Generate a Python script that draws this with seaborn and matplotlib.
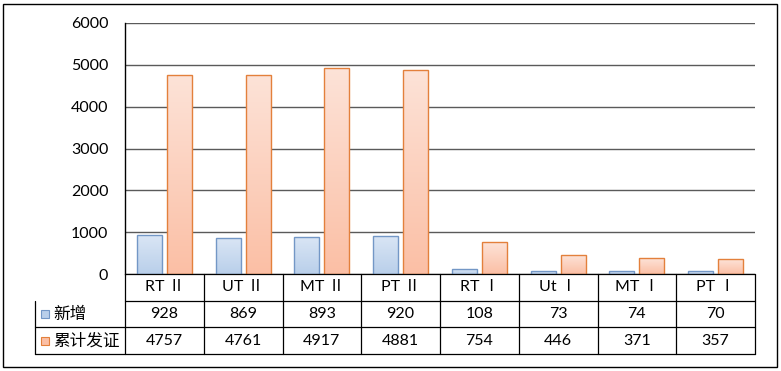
import numpy as np
import pandas as pd
import matplotlib
matplotlib.use("Agg")
import matplotlib.pyplot as plt
import seaborn as sns
from matplotlib.colors import LinearSegmentedColormap
from matplotlib.patches import Rectangle

categories = ["RT Ⅱ", "UT Ⅱ", "MT Ⅱ", "PT Ⅱ", "RT Ⅰ", "Ut Ⅰ", "MT Ⅰ", "PT Ⅰ"]
series_names = ["新增", "累计发证"]
new_counts = [928, 869, 893, 920, 108, 73, 74, 70]
total_counts = [4757, 4761, 4917, 4881, 754, 446, 371, 357]
yticks = [0, 1000, 2000, 3000, 4000, 5000, 6000]

# (edge, top of gradient, bottom of gradient)
styles = {
    "新增": ("#7397c6", "#dae6f5", "#b9cfea"),
    "累计发证": ("#e3803c", "#fde3d8", "#fbbfa5"),
}

df = pd.DataFrame({
    "cat": categories * 2,
    "series": [series_names[0]] * len(categories) + [series_names[1]] * len(categories),
    "value": new_counts + total_counts,
})

sns.set_theme(style="white")
plt.rcParams["font.family"] = ["Lato", "Noto Sans CJK SC", "DejaVu Sans"]

fig = plt.figure(figsize=(7.81, 3.71), dpi=100)
ax = fig.add_axes([125 / 781, 97 / 371, 630 / 781, 251 / 371])

sns.barplot(data=df, x="cat", y="value", hue="series", hue_order=series_names,
            palette=[styles[s][0] for s in series_names], width=0.76, gap=0.16,
            ax=ax, legend=False, zorder=3)

# gradient fill like Excel
grad = np.linspace(0, 1, 256).reshape(-1, 1)
for cont, name in zip(ax.containers, series_names):
    edge, top, bot = styles[name]
    cmap = LinearSegmentedColormap.from_list(name, [bot, top])
    for p in cont.patches:
        p.set_facecolor("none")
        p.set_edgecolor(edge)
        p.set_linewidth(1.0)
        x0, y0, w, h = p.get_x(), p.get_y(), p.get_width(), p.get_height()
        im = ax.imshow(grad, extent=[x0, x0 + w, y0, y0 + h], origin="lower",
                       cmap=cmap, aspect="auto", zorder=2.9)
        im.set_clip_path(p)

ax.set_xlim(-0.5, len(categories) - 0.5)
ax.set_ylim(0, 6000)
ax.set_yticks(yticks)
ax.set_yticklabels([str(t) for t in yticks], fontsize=11.5)
ax.tick_params(axis="y", length=0, pad=12, colors="black")
ax.set_xticks([])
ax.set_xlabel("")
ax.set_ylabel("")
ax.grid(axis="y", color="#5a5a5a", linewidth=1.0, zorder=0)
ax.set_axisbelow(True)
for s in ["top", "right", "bottom"]:
    ax.spines[s].set_visible(False)
ax.spines["left"].set_color("black")
ax.spines["left"].set_linewidth(1.0)

# data table under the plot (drawn by hand, in axes coords)
ncol = len(categories)
row_w = 90 / 630
row_h = (80 / 251) / 3
line_kw = dict(color="black", linewidth=0.9, transform=ax.transAxes, clip_on=False, zorder=6)
ax.plot([0, 1], [0, 0], **line_kw)
for k in (1, 2, 3):
    ax.plot([-row_w if k > 1 else 0, 1], [-k * row_h, -k * row_h], **line_kw)
ax.plot([-row_w, -row_w], [-row_h, -3 * row_h], **line_kw)
for j in range(ncol + 1):
    ax.plot([j / ncol, j / ncol], [0, -3 * row_h], **line_kw)

txt_kw = dict(transform=ax.transAxes, ha="center", va="center", fontsize=11.5, color="black")
for j, cat in enumerate(categories):
    ax.text((j + 0.5) / ncol, -0.5 * row_h, cat, **txt_kw)
for i, (name, vals) in enumerate(zip(series_names, [new_counts, total_counts])):
    yc = -(i + 1.5) * row_h
    for j, v in enumerate(vals):
        ax.text((j + 0.5) / ncol, yc, str(v), **txt_kw)
    ax.text(-row_w + 18 / 630, yc, name, transform=ax.transAxes, ha="left",
            va="center", fontsize=12, color="black")
    edge, top, bot = styles[name]
    ax.add_patch(Rectangle((-84 / 630, yc - 4 / 251), 8 / 630, 8 / 251,
                           transform=ax.transAxes, clip_on=False,
                           facecolor=bot, edgecolor=edge, linewidth=0.8, zorder=5))

# outer chart border
fig.add_artist(Rectangle((3 / 781, 4 / 371), 774 / 781, 363 / 371,
                         transform=fig.transFigure, fill=False,
                         edgecolor="black", linewidth=1.0))

fig.savefig("out.png", dpi=100)
